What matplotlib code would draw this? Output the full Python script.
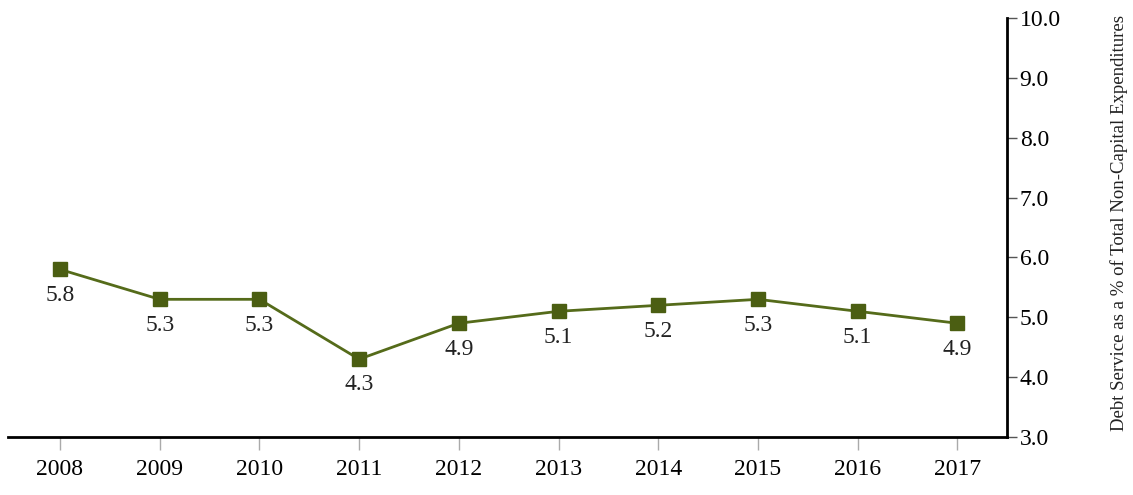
import matplotlib
matplotlib.use("Agg")
import matplotlib.pyplot as plt

# data
years = [2008, 2009, 2010, 2011, 2012, 2013, 2014, 2015, 2016, 2017]
debt_pct = [5.8, 5.3, 5.3, 4.3, 4.9, 5.1, 5.2, 5.3, 5.1, 4.9]
y_ticks = [3.0, 4.0, 5.0, 6.0, 7.0, 8.0, 9.0, 10.0]

plt.rcParams['font.family'] = ['Liberation Serif', 'DejaVu Serif']

fig = plt.figure(figsize=(11.33, 4.95), dpi=100)
ax = fig.add_axes([0.007, 0.1172, 0.882, 0.8464])

ax.plot(years, debt_pct, color='#556b1a', lw=2, marker='s', ms=10,
        mfc='#4b5e12', mec='#4b5e12', zorder=3)
for x, v in zip(years, debt_pct):
    ax.annotate(f'{v:.1f}', (x, v), xytext=(0, -11), textcoords='offset points',
                ha='center', va='top', fontsize=17, color='#222222')

ax.set_xlim(2007.478, 2017.50)
ax.set_ylim(3.0, 10.0)
ax.set_xticks(years)
ax.set_xticklabels([str(y) for y in years])
ax.set_yticks(y_ticks)
ax.set_yticklabels([f'{t:.1f}' for t in y_ticks])

ax.yaxis.tick_right()
for s in ['top', 'left']:
    ax.spines[s].set_visible(False)
ax.spines['right'].set_linewidth(2)
ax.spines['bottom'].set_linewidth(2)

ax.tick_params(axis='x', length=9, width=1, color='#aaaaaa', pad=7, labelsize=17)
ax.tick_params(axis='y', length=7, width=1, color='#555555', pad=2, labelsize=17)

fig.text(0.988, 0.55, 'Debt Service as a % of Total Non-Capital Expenditures',
         rotation=90, ha='center', va='center', fontsize=13.5, color='#222222')

fig.savefig('out.png', dpi=100)
